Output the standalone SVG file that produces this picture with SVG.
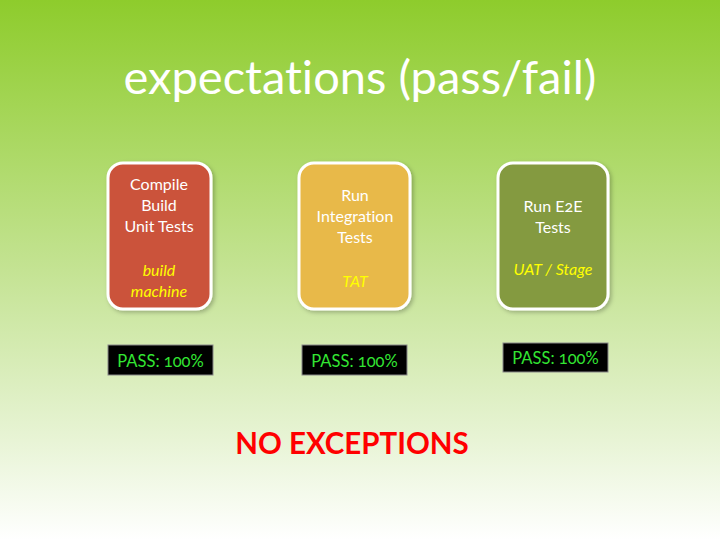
<svg xmlns="http://www.w3.org/2000/svg" width="720" height="540" viewBox="0 0 720 540">
<defs>
<linearGradient id="bg" x1="0" y1="0" x2="0" y2="1">
<stop offset="0" stop-color="#8ECC2C"/>
<stop offset="0.5" stop-color="#C4E393"/>
<stop offset="0.8" stop-color="#E6F3D2"/>
<stop offset="1" stop-color="#FFFFFF"/>
</linearGradient>
<filter id="sh" x="-20%" y="-20%" width="140%" height="140%">
<feDropShadow dx="2" dy="2" stdDeviation="2" flood-color="#000" flood-opacity="0.25"/>
</filter>
</defs>
<style>
text{font-family:"Lato","Open Sans","DejaVu Sans",sans-serif;font-variant-ligatures:none;font-variant-numeric:oldstyle-nums;}
.title{font-size:47px;fill:#fff;text-anchor:middle;}
.card{stroke:#fff;stroke-width:3;filter:url(#sh);}
.lbl{font-size:16px;fill:#fff;text-anchor:middle;}
.sub{font-size:16px;fill:#FFFF00;font-style:italic;text-anchor:middle;}
.pass rect{fill:#000;stroke:#888;stroke-width:1;}
.pass text{font-size:16.5px;fill:#33E633;text-anchor:middle;}
.no{font-size:29.5px;font-weight:bold;fill:#FF0000;text-anchor:middle;}
</style>
<rect width="720" height="540" fill="url(#bg)"/>
<text class="title" x="360" y="94">expectations (pass/fail)</text>
<g id="node-build">
<rect class="card" x="108" y="163" width="103" height="146" rx="15" fill="#CB533A"/>
<text class="lbl" x="159" y="190">Compile</text>
<text class="lbl" x="159" y="211">Build</text>
<text class="lbl" x="159" y="232">Unit Tests</text>
<text class="sub" x="159" y="276">build</text>
<text class="sub" x="159" y="297">machine</text>
</g>
<g id="node-integration">
<rect class="card" x="299" y="163" width="111" height="146" rx="15" fill="#E8B948"/>
<text class="lbl" x="355" y="201">Run</text>
<text class="lbl" x="355" y="222">Integration</text>
<text class="lbl" x="355" y="243">Tests</text>
<text class="sub" x="355" y="287">TAT</text>
</g>
<g id="node-e2e">
<rect class="card" x="498" y="163" width="110" height="146" rx="15" fill="#849A3F"/>
<text class="lbl" x="553" y="212">Run E2E</text>
<text class="lbl" x="553" y="233">Tests</text>
<text class="sub" x="553" y="275">UAT / Stage</text>
</g>
<g id="pass-1" class="pass">
<rect x="108" y="345" width="105" height="30"/>
<text x="160.5" y="367">PASS: 100%</text>
</g>
<g id="pass-2" class="pass">
<rect x="302" y="345" width="105" height="30"/>
<text x="354.5" y="367">PASS: 100%</text>
</g>
<g id="pass-3" class="pass">
<rect x="503" y="343" width="105" height="29"/>
<text x="555.5" y="364">PASS: 100%</text>
</g>
<g id="connectors"></g>
<text class="no" x="352" y="454">NO EXCEPTIONS</text>
</svg>
